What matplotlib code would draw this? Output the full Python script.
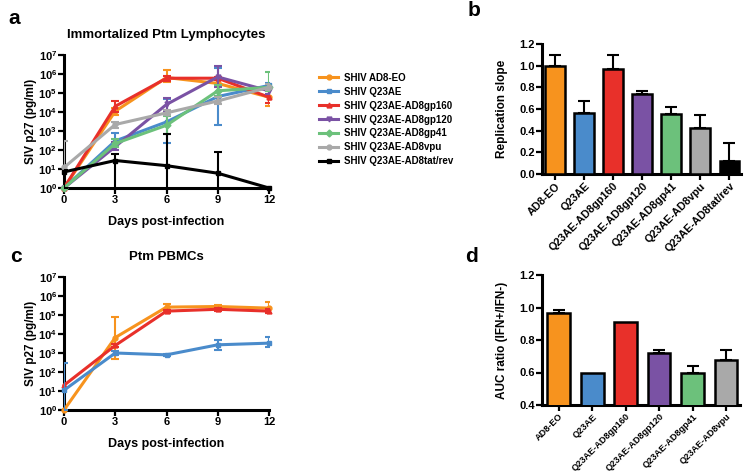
import matplotlib
matplotlib.use("Agg")
import matplotlib.pyplot as plt
import numpy as np

plt.rcParams['font.family'] = ['Liberation Sans', 'DejaVu Sans']
plt.rcParams['font.weight'] = 'bold'
plt.rcParams['mathtext.fontset'] = 'custom'
plt.rcParams['mathtext.rm'] = 'Liberation Sans:bold'
plt.rcParams['mathtext.bf'] = 'Liberation Sans:bold'
plt.rcParams['mathtext.default'] = 'bf'

days = [0, 3, 6, 9, 12]

# panel a: immortalized Ptm lymphocytes (value, upper error, lower error)
a_names = ["SHIV AD8-EO", "SHIV Q23AE", "SHIV Q23AE-AD8gp160", "SHIV Q23AE-AD8gp120",
           "SHIV Q23AE-AD8gp41", "SHIV Q23AE-AD8vpu", "SHIV Q23AE-AD8tat/rev"]
a_colors = ["#F7931E", "#4A8BCB", "#E8302A", "#7A52A4", "#6CC17B", "#A9A9A9", "#000000"]
a_markers = ["o", "s", "^", "v", "D", "o", "s"]
a_vals = [
    [1, 1.1e4, 6.5e5, 3.2e5, 6e4],
    [1, 3e2, 3e3, 6.5e4, 2.5e5],
    [1, 2e4, 6e5, 6e5, 6e4],
    [1, 1.5e2, 2.5e4, 7e5, 1.3e5],
    [1, 2.2e2, 2e3, 1.3e5, 2e5],
    [12, 2.2e3, 9e3, 3.8e4, 2e5],
    [7, 28, 15, 6, 1],
]
a_hi = [
    [1, 1.6e4, 1.6e6, 6e5, 2.2e5],
    [1, 8e2, 5e4, 2e6, 3.5e5],
    [1, 4e4, 8e5, 7e5, 8e4],
    [1, 2.5e2, 5.5e4, 2.5e6, 2e5],
    [1, 4e2, 6e3, 2.5e5, 1.2e6],
    [3e2, 3e3, 1.2e4, 6e4, 3e5],
    [9, 60, 7e2, 80, 1],
]
a_lo = [
    [1, 7e3, 4e5, 2e5, 2e4],
    [1, 1.5e2, 2.3e2, 2e3, 1.8e5],
    [1, 1e4, 4.5e5, 5e5, 3e4],
    [1, 1e2, 1e4, 2e5, 9e4],
    [1, 1.5e2, 7e2, 7e4, 1.3e5],
    [1, 1.5e3, 7e3, 2.5e4, 1.5e5],
    [1, 0.1, 0.1, 0.1, 1],
]

# panel c: Ptm PBMCs (orange, red, blue)
c_idx = [0, 2, 1]
c_vals = [
    [1, 6.5e3, 2.6e5, 2.8e5, 2.3e5],
    [20, 2.5e3, 1.6e5, 2e5, 1.6e5],
    [11, 1e3, 8e2, 2.7e3, 3.3e3],
]
c_hi = [
    [1, 8e4, 3.6e5, 3.3e5, 5e5],
    [25, 3e3, 1.9e5, 2.4e5, 2e5],
    [3e2, 1.2e3, 9e2, 5e3, 7e3],
]
c_lo = [
    [1, 5e2, 1.7e5, 2.3e5, 1.2e5],
    [15, 2e3, 1.3e5, 1.7e5, 1.2e5],
    [1, 8e2, 7e2, 1.5e3, 2e3],
]

# panel b: replication slope
b_labels = ["AD8-EO", "Q23AE", "Q23AE-AD8gp160", "Q23AE-AD8gp120", "Q23AE-AD8gp41",
            "Q23AE-AD8vpu", "Q23AE-AD8tat/rev"]
b_vals = [1.0, 0.56, 0.97, 0.74, 0.55, 0.42, 0.12]
b_err = [0.10, 0.11, 0.13, 0.03, 0.07, 0.12, 0.17]

# panel d: AUC ratio
d_labels = ["AD8-EO", "Q23AE", "Q23AE-AD8gp160", "Q23AE-AD8gp120", "Q23AE-AD8gp41",
            "Q23AE-AD8vpu"]
d_vals = [0.965, 0.60, 0.91, 0.72, 0.598, 0.675]
d_err = [0.022, 0.0, 0.0, 0.018, 0.045, 0.062]

W, H = 744, 475
fig = plt.figure(figsize=(W / 100, H / 100), dpi=100)


def px_axes(l, t, r, b):
    return fig.add_axes([l / W, 1 - b / H, (r - l) / W, (b - t) / H])


def prism_style(ax):
    for s in ["top", "right"]:
        ax.spines[s].set_visible(False)
    for s in ["left", "bottom"]:
        ax.spines[s].set_linewidth(2.2)
    ax.tick_params(width=1.6, length=4, labelsize=8, pad=1)
    for lab in ax.get_xticklabels() + ax.get_yticklabels():
        lab.set_fontweight('bold')


def line_panel(ax, vals, hi, lo, colors, markers, labels=None):
    for i in range(len(vals)):
        v = np.array(vals[i], float)
        yerr = [v - np.array(lo[i]), np.array(hi[i]) - v]
        z = 3 + i * 0.1
        # error bars are clipped at the axes, the lines and markers are not
        ax.errorbar(days, v, yerr=yerr, fmt='none', ecolor=colors[i], elinewidth=1.5,
                    capsize=3, capthick=1.5, zorder=z)
        ax.plot(days, v, color=colors[i], marker=markers[i], ms=3.5, lw=2.2,
                label=labels[i] if labels else None, clip_on=False, zorder=z)
    ax.set_yscale('log')
    ax.set_ylim(1, 1e7)
    ax.set_xlim(0, 12)
    ax.set_xticks(days)
    ax.set_yticks([10.0 ** k for k in range(8)])
    ax.yaxis.set_minor_locator(matplotlib.ticker.NullLocator())
    ax.set_xlabel("Days post-infection", fontsize=9, fontweight='bold', labelpad=8)
    ax.set_ylabel("SIV p27 (pg/ml)", fontsize=8.5, fontweight='bold', labelpad=1)
    prism_style(ax)


ax_a = px_axes(64, 55, 269, 188)
line_panel(ax_a, a_vals, a_hi, a_lo, a_colors, a_markers, a_names)
ax_a.set_title("Immortalized Ptm Lymphocytes", fontsize=9.5, fontweight='bold', pad=12)
handles, labels = ax_a.get_legend_handles_labels()
fig.legend(handles, labels, loc='upper left', bbox_to_anchor=(314 / W, 1 - 68 / H),
           frameon=False, prop={'weight': 'bold', 'size': 7},
           handlelength=2.0, handletextpad=0.6, labelspacing=0.4, borderpad=0)

ax_c = px_axes(64, 277, 269, 410)
line_panel(ax_c, c_vals, c_hi, c_lo, [a_colors[k] for k in c_idx],
           [a_markers[k] for k in c_idx])
ax_c.set_title("Ptm PBMCs", fontsize=9.5, fontweight='bold', pad=12)


def bar_panel(ax, labels, vals, err, ylim, yticks, ylabel, fs):
    x = np.arange(len(labels))
    ax.bar(x, vals, width=0.68, color=a_colors[:len(labels)], edgecolor='black',
           linewidth=1.8, zorder=3)
    has_err = np.array(err) > 0
    ax.errorbar(x[has_err], np.array(vals)[has_err],
                yerr=[np.zeros(has_err.sum()), np.array(err)[has_err]], fmt='none',
                ecolor='black', elinewidth=1.5, capsize=4, capthick=1.5, zorder=2)
    ax.set_ylim(*ylim)
    ax.set_yticks(yticks)
    ax.set_yticklabels([f"{t:.1f}" for t in yticks])
    ax.set_ylabel(ylabel, fontsize=8.5, fontweight='bold', labelpad=8)
    prism_style(ax)
    ax.set_xticks(x)
    ax.set_xticklabels(labels, rotation=45, ha='right', rotation_mode='anchor',
                       fontsize=fs, fontweight='bold')


ax_b = px_axes(542, 44, 741, 174)
bar_panel(ax_b, b_labels, b_vals, b_err, (0, 1.2), np.arange(0, 1.21, 0.2),
          "Replication slope", 7.8)
ax_b.set_xlim(-0.45, 6.4)

ax_d = px_axes(542, 275, 740, 405)
bar_panel(ax_d, d_labels, d_vals, d_err, (0.4, 1.2), [0.4, 0.6, 0.8, 1.0, 1.2],
          "AUC ratio (IFN+/IFN-)", 6.6)
ax_d.set_xlim(-0.5, 5.42)

for lab, (x, y) in zip("abcd", [(8, 18), (468, 10), (10, 257), (465, 257)]):
    fig.text(x / W, 1 - y / H, lab, fontsize=15, fontweight='bold', va='center')

fig.savefig("out.png", dpi=100)
